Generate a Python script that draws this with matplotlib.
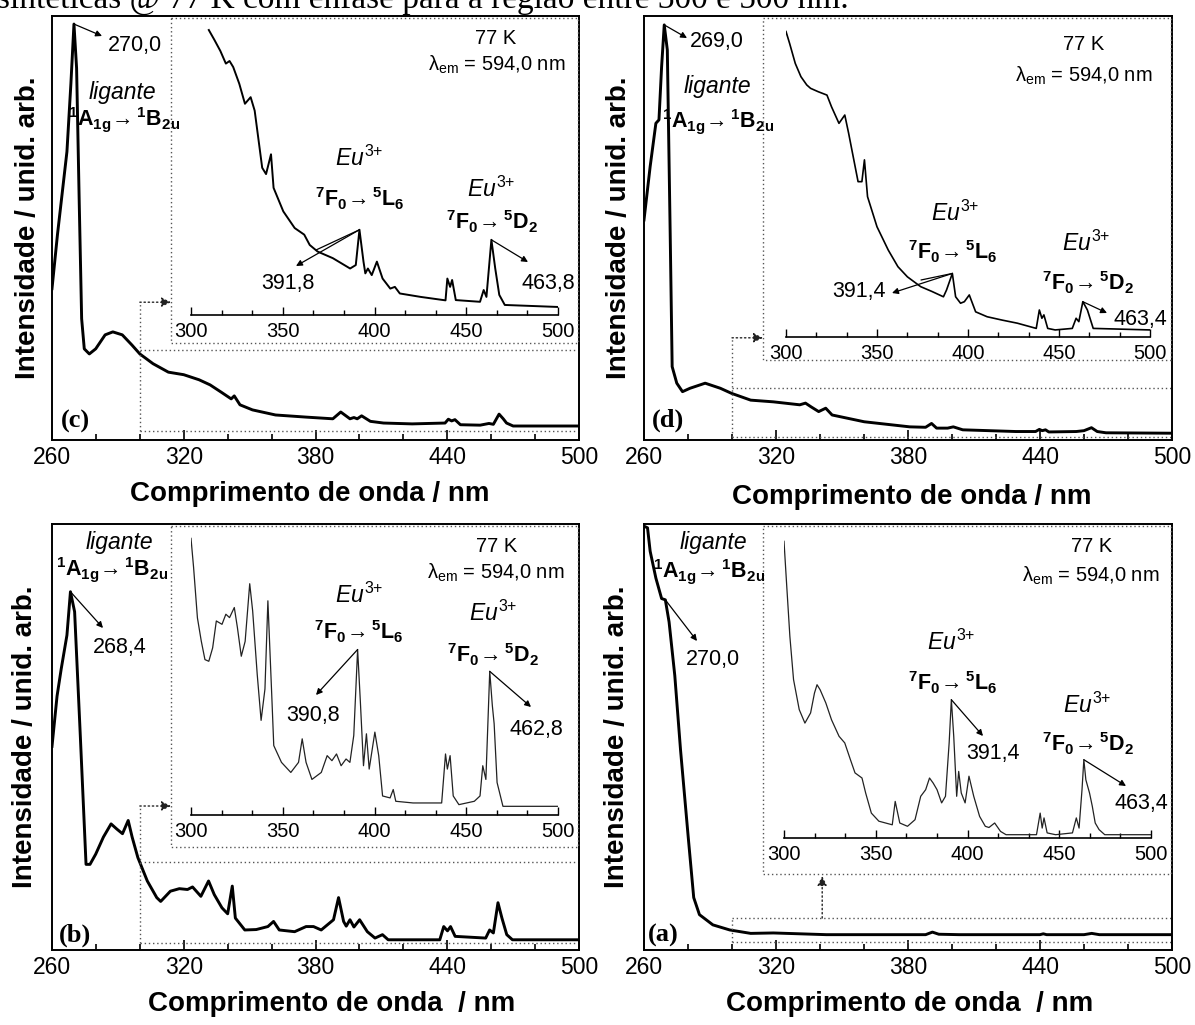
import matplotlib
matplotlib.use("Agg")
import matplotlib.pyplot as plt
import matplotlib.transforms as mtransforms
from matplotlib.patches import Rectangle
from matplotlib.ticker import MultipleLocator

W, H = 1195, 1025

plt.rcParams['font.family'] = ['Liberation Sans', 'DejaVu Sans']
plt.rcParams['mathtext.fontset'] = 'custom'
plt.rcParams['mathtext.rm'] = 'Liberation Sans'
plt.rcParams['mathtext.it'] = 'Liberation Sans:italic'
plt.rcParams['mathtext.bf'] = 'Liberation Sans:bold'

# ==============================
# DATA (intensity in % of the axis height)
# ==============================
# (c) main spectrum
c_x = [260, 262.5, 266.8, 268.6, 270, 271.2, 272.4, 273.5, 274.7, 277,
       279.9, 284.2, 287.7, 292, 296.4, 300, 306, 313, 320, 327,
       332, 337, 341.6, 343, 345.6, 351.3, 361.8, 375.7, 387.9, 391.5,
       395.7, 397.5, 399, 401, 405, 411, 424, 439, 440.5, 442,
       443.5, 446, 455, 459, 461, 463.6, 465.5, 467, 470, 500]
c_y = [35.7, 48.5, 68, 84, 98.1, 87.7, 56, 28.6, 21.5, 20.3,
       21.5, 24.8, 25.5, 24.8, 22.4, 20.3, 18, 16, 15.4, 14.2,
       13, 11.3, 9.7, 10.4, 8.3, 7.1, 5.9, 5.4, 5.0, 6.6,
       5.0, 5.3, 5.0, 5.7, 4.4, 4.0, 3.8, 4.0, 4.9, 4.5,
       4.8, 3.6, 3.5, 3.9, 3.7, 6.1, 5.0, 4.0, 3.3, 3.3]
# (c) inset 300-500 nm
ci_x = [309.7, 312.8, 316, 319, 321, 323, 326.3, 329.4, 332.5, 334.7,
        338.8, 340.9, 343.6, 345, 350.3, 356.5, 361.7, 364.7, 369, 377.3,
        386.7, 389.8, 391.8, 394, 395, 396.4, 398.5, 401.3, 404.4, 408.6,
        411.1, 413.8, 425.2, 438.7, 439.7, 441.2, 442.3, 444.3, 457.5, 459.5,
        461, 463.7, 465.8, 468, 471, 500]
ci_y = [99.3, 95.8, 92, 87.6, 88.5, 86.4, 80.6, 73.6, 75.9, 71.2,
        51.3, 49.1, 56, 44.3, 36.1, 30.3, 28, 24.4, 22.1, 19.8,
        16.2, 17.4, 29.7, 18.6, 14.5, 16.2, 13.9, 18.6, 12.7, 9.2,
        9.8, 7.5, 6.3, 5.1, 12.7, 9.8, 12.2, 5.2, 4.6, 8.7,
        6.3, 26.2, 16.2, 7, 3.5, 2.8]

# (d) main spectrum
d_x = [260, 262.8, 265.4, 266.8, 268, 269.2, 270.6, 271.9, 272.8, 274.9,
       277.5, 280.9, 287.8, 294.7, 299.8, 308.5, 318.8, 330.8, 333.4, 336,
       339.4, 342.6, 345.5, 360.1, 380.8, 388, 390.7, 393, 394.6, 398,
       400.6, 404.9, 429, 438, 439.7, 441, 442.5, 444, 456.5, 460,
       463.4, 466, 470, 500]
d_y = [51.9, 64.5, 74.7, 75.5, 88, 97.9, 92, 48.8, 17.3, 13.4,
       11.4, 12.2, 13.4, 12.2, 11, 9.4, 9, 8.3, 8.7, 7.8,
       6.7, 7.5, 5.9, 4.3, 3.1, 3.0, 3.9, 2.8, 2.8, 2.8,
       3.1, 2.4, 2.0, 2.0, 2.5, 2.2, 2.4, 1.9, 2.0, 2.2,
       2.9, 2.0, 1.7, 1.6]
# (d) inset
di_x = [300, 302, 305.1, 308.2, 311.4, 313.5, 317.7, 322.5, 325, 329.1,
        332.3, 334.4, 339.6, 341.7, 343.1, 344.8, 350, 356.2, 361.5, 366.7,
        374, 380.3, 386.5, 388.2, 391.4, 393.2, 395.9, 398, 400.7, 404.2,
        410.5, 418.8, 427.1, 437.5, 439.2, 440.6, 441.7, 443.8, 447.9, 457.3,
        459.4, 460.9, 463.1, 465.6, 468.8, 500]
di_y = [99.5, 95.6, 89.1, 84.8, 82.1, 81, 79.9, 78.8, 75, 69.6,
        72.3, 66.4, 50.6, 50.6, 57.7, 45.7, 35.9, 28.3, 22.9, 19.6,
        16.4, 14.8, 13.1, 15.3, 20.7, 13.1, 11, 11.5, 13.7, 8.2,
        6.6, 5.5, 4.5, 2.8, 8.8, 6.1, 7.2, 2.8, 2.3, 2.8,
        6.1, 5, 11.5, 8.8, 2.8, 2.3]

# (b) main spectrum
b_x = [260, 262.3, 264.2, 266.8, 268.4, 270.3, 272.9, 275.5, 277.3, 279.9,
       283.4, 286.9, 289.5, 292.1, 294.7, 296.5, 299.1, 303.4, 307.7, 309.5,
       313.9, 318, 321.7, 324, 327.8, 331.3, 333.9, 337.4, 340, 342.1,
       343.5, 347.8, 353, 358.3, 360.9, 363.5, 370.5, 375.7, 379.1, 382.6,
       388.2, 390.5, 392.8, 394, 395.7, 397.5, 400.1, 403.6, 407.1, 410.5,
       413.1, 436.6, 438.4, 440.1, 441.5, 443.6, 457.5, 459.3, 461, 463.1,
       464.9, 467.1, 469.7, 500]
b_y = [47.8, 59.6, 66, 73.9, 84.1, 79.4, 50.2, 20.1, 20.1, 22.5,
       26.5, 29.6, 28.4, 27.3, 30.4, 26.5, 21.7, 16.2, 12.3, 11.4,
       13.8, 14.4, 14.2, 14.8, 12.6, 16.2, 13, 9.9, 8.5, 15,
       7.5, 4.7, 4.8, 5.5, 6.7, 4.7, 4.3, 5.5, 5.5, 4.7,
       7.1, 12.3, 6.7, 5.6, 7.1, 5.4, 7.1, 4.3, 2.8, 3.6,
       2.4, 2.4, 5.5, 4.5, 5.5, 3.2, 2.8, 4.7, 4.0, 11.1,
       7.5, 3.6, 2.4, 2.4]
# (b) inset
bi_x = [300, 301.4, 303.5, 305.6, 307.6, 309.7, 311.8, 313.8, 316.9, 319,
        321, 323.6, 325.3, 327.4, 329.5, 332, 333.6, 336.1, 338.2, 340.3,
        341.9, 344, 345.1, 349.3, 354.4, 358.6, 360.6, 362.7, 365.9, 371,
        374.2, 376.8, 379.3, 381.8, 384.5, 386.6, 388.7, 390.8, 392.3, 394,
        395.6, 397.1, 400.2, 402.3, 404.4, 408.5, 410.2, 411.6, 421, 436.6,
        438.7, 439.7, 441.2, 442.9, 446, 454.4, 457.5, 459, 460.7, 462.8,
        464.2, 465.2, 466.8, 470, 500]
bi_y = [98.8, 88.5, 70.4, 62.1, 55.5, 54.9, 59.7, 69.3, 68.1, 71.7,
        70.5, 74.1, 66.9, 56.7, 62, 82.6, 72.9, 50.1, 33.8, 45,
        76.5, 42.9, 24.8, 18.8, 15.2, 18.8, 27.2, 18.8, 12.7, 15.2,
        21.2, 19.4, 21.8, 17.6, 20, 18.8, 28.4, 59.1, 40.4, 17.6,
        29, 16.4, 29.6, 21.2, 6.8, 6.1, 9.1, 4.9, 4.3, 4.3,
        21.8, 16.4, 21.2, 6.8, 3.7, 4.9, 6.8, 17.6, 12.7, 51.3,
        39.2, 32.6, 11.6, 3.1, 3.1]

# (a) main spectrum
a_x = [260, 261.6, 262.8, 265.4, 268, 269.7, 271.4, 274, 276.6, 280.1,
       282.6, 285.2, 291.3, 299, 308.5, 318.8, 342.9, 377.3, 388, 391.1,
       394, 403.2, 440, 441.5, 443, 460, 463.5, 467, 500]
a_y = [99.5, 99.1, 93.6, 87.3, 82.5, 82.2, 77, 64.4, 47, 26.5,
       12.3, 8.3, 5.9, 4.7, 3.9, 4.0, 3.6, 3.6, 3.6, 4.2,
       3.7, 3.6, 3.6, 3.8, 3.6, 3.6, 3.9, 3.6, 3.6]
# (a) inset
ai_x = [300, 301.5, 303.2, 305.2, 308.3, 311.4, 314.5, 316.6, 318, 319.7,
        322.8, 325.9, 330, 333.1, 336.2, 338.7, 342.5, 344.5, 347.6, 351.7,
        359, 360.6, 363.1, 367.3, 371.4, 374.5, 377.2, 379.3, 381.3, 383.4,
        385.9, 388, 390, 391.2, 392.5, 394.1, 395.2, 396.6, 398.7, 400.8,
        403.4, 406.6, 409.7, 411.7, 414.8, 418, 421, 437.6, 439.6, 440.7,
        441.7, 443.4, 448, 457.2, 459.3, 460.8, 462.4, 463.4, 464.5, 466.5,
        468, 469.6, 471.7, 474.8, 500]
ai_y = [98.9, 83.9, 67.2, 52.8, 42.8, 38.3, 41.7, 48.3, 51.1, 49.4,
        45, 39.4, 33.9, 31.7, 26.1, 21.7, 20, 15, 8.3, 5.6,
        4.4, 12.2, 5, 3.9, 6.1, 13.9, 16.1, 20, 18.3, 16.1,
        11.7, 13.9, 31.7, 46.1, 33.9, 13.9, 22.2, 15, 11.7, 20.6,
        13.9, 7.2, 3.9, 3.5, 5, 2.2, 1.1, 1.1, 8.3, 3.3,
        6.7, 1.7, 1.1, 1.7, 6.7, 3.3, 16.1, 26.1, 19.4, 15,
        10.6, 5, 2.8, 1.1, 1.1]

# peak labels (ligand band, 7F0->5L6, 7F0->5D2)
c_labels = ["270,0", "391,8", "463,8"]
d_labels = ["269,0", "391,4", "463,4"]
b_labels = ["268,4", "390,8", "462,8"]
a_labels = ["270,0", "391,4", "463,4"]

main_ticks = [260, 320, 380, 440, 500]
inset_ticks = [300, 350, 400, 450, 500]

TOP_TEXT = "sintéticas @ 77 K com ênfase para a região entre 300 e 500 nm."
XLAB_1 = "Comprimento de onda / nm"
XLAB_2 = "Comprimento de onda  / nm"
YLAB = "Intensidade / unid. arb."
LIG = "ligante"
LIG_TR = r"${}^{\mathbf{1}}\mathbf{A}_{\mathbf{1g}}\!\rightarrow{}^{\mathbf{1}}\mathbf{B}_{\mathbf{2u}}$"
EU = r"$\mathit{Eu}^{\mathit{3}\,\!\mathit{+}}$"
TR_L6 = r"${}^{\mathbf{7}}\mathbf{F}_{\mathbf{0}}\!\rightarrow{}^{\mathbf{5}}\mathbf{L}_{\mathbf{6}}$"
TR_D2 = r"${}^{\mathbf{7}}\mathbf{F}_{\mathbf{0}}\!\rightarrow{}^{\mathbf{5}}\mathbf{D}_{\mathbf{2}}$"
TEMP = "77 K"
LAM = "λ$_{\\mathrm{em}}$ = 594,0 nm"

# ==============================
# FIGURE + HELPERS
# ==============================
fig = plt.figure(figsize=(W / 100, H / 100), dpi=100)
PX = mtransforms.Affine2D().scale(1 / W, -1 / H).translate(0, 1) + fig.transFigure
DOT = (0, (1, 2))
DOTC = '#555555'


def rect(x0, y0, x1, y1):
    return [x0 / W, 1 - y1 / H, (x1 - x0) / W, (y1 - y0) / H]


def peak(xs, ys, lo, hi):
    pts = [(x, y) for x, y in zip(xs, ys) if lo <= x <= hi]
    return max(pts, key=lambda p: p[1])


def txt(x, y, s, **kw):
    kw.setdefault('fontsize', 15.5)
    fig.text(x, y, s, transform=PX, ha='center', va='center', **kw)


def arrow(ax, tail, head, style='-|>'):
    ax.annotate('', xy=head, xycoords=PX, xytext=tail, textcoords='data',
                arrowprops=dict(arrowstyle=style, color='k', lw=0.9,
                                shrinkA=0, shrinkB=0, mutation_scale=9),
                annotation_clip=False)


def main_axes(box, xs, ys):
    ax = fig.add_axes(rect(*box))
    ax.plot(xs, ys, color='k', lw=2.1, solid_joinstyle='round')
    ax.set_xlim(260, 500)
    ax.set_ylim(0, 100)
    ax.set_yticks([])
    ax.set_xticks(main_ticks)
    ax.xaxis.set_minor_locator(MultipleLocator(20))
    ax.tick_params(axis='x', which='both', direction='in', width=1.2,
                   labelsize=16.5, pad=4)
    ax.tick_params(axis='x', which='major', length=7)
    ax.tick_params(axis='x', which='minor', length=4.5)
    for s in ax.spines.values():
        s.set_linewidth(1.4)
    return ax


def inset_axes(box, xs, ys, lw, color='k'):
    ax = fig.add_axes(rect(*box))
    ax.patch.set_alpha(0)
    ax.plot(xs, ys, color=color, lw=lw)
    ax.set_xlim(300, 500)
    ax.set_ylim(0, 100)
    ax.set_yticks([])
    for side in ['top', 'left', 'right']:
        ax.spines[side].set_visible(False)
    ax.spines['bottom'].set_linewidth(1.2)
    ax.set_xticks(inset_ticks)
    ax.xaxis.set_minor_locator(MultipleLocator(50 / 3))
    ax.tick_params(axis='x', which='both', direction='in', width=1.0,
                   labelsize=14.5, pad=5)
    ax.tick_params(axis='x', which='major', length=6)
    ax.tick_params(axis='x', which='minor', length=3.5)
    return ax


def dotted_box(box):
    x0, y0, x1, y1 = box
    fig.patches.append(Rectangle((x0, y0), x1 - x0, y1 - y0, transform=PX,
                                 fill=False, ec=DOTC, lw=1.0, ls=DOT))


def dotted_arrow(ax, tr, head, tail):
    ax.annotate('', xy=head, xycoords=tr, xytext=tail, textcoords='data',
                annotation_clip=False,
                arrowprops=dict(arrowstyle='-|>', color='#222222', lw=1.0,
                                ls=DOT, shrinkA=0, shrinkB=0,
                                mutation_scale=14))


def selection(ax, lo, hi, top=None, box_left=None):
    kw = dict(color=DOTC, lw=1.0, ls=DOT)
    ax.plot([300, 500], [lo, lo], **kw)
    ax.plot([300, 500], [hi, hi], **kw)
    ax.plot([300, 300], [lo, top if top is not None else hi], **kw)
    if box_left is not None:
        tr = mtransforms.blended_transform_factory(PX, ax.transData)
        dotted_arrow(ax, tr, (box_left, top), (300, top))


def frame_labels(ylab_x, ylab_y, xlab_x, xlab_y, xlab):
    fig.text(ylab_x, ylab_y, YLAB, transform=PX, rotation=90, ha='center',
             va='center', fontsize=20, fontweight='bold')
    fig.text(xlab_x, xlab_y, xlab, transform=PX, ha='center', va='center',
             fontsize=20, fontweight='bold')


def tag(x, y, s):
    fig.text(x, y, s, transform=PX, ha='center', va='center', fontsize=19,
             fontweight='bold', family='Liberation Serif')


fig.text(-3, 8, TOP_TEXT, transform=PX, ha='left', va='baseline',
         fontsize=24, family='Liberation Serif')

# ==============================
# PANEL (c) - top left
# ==============================
ax = main_axes((52, 16, 579, 440), c_x, c_y)
selection(ax, 2.1, 21.2, top=32.5, box_left=171)
dotted_box((171, 18, 578, 343))
arrow(ax, peak(c_x, c_y, 268, 272), (102, 36))
txt(135, 45, c_labels[0])
txt(122, 92, LIG, style='italic', fontsize=16.5)
txt(124, 120, LIG_TR)
tag(75, 421, "(c)")
ai = inset_axes((191, 28, 558, 315), ci_x, ci_y, 1.4)
txt(496, 38, TEMP, fontsize=14.5)
txt(497, 65, LAM, fontsize=14.5)
txt(359, 158, EU, fontsize=16.5)
txt(360, 199, TR_L6)
pk = peak(ci_x, ci_y, 388, 393)
arrow(ai, pk, (296, 266))
arrow(ai, pk, (316, 250), style='-')
txt(288, 283, c_labels[1])
txt(491, 189, EU, fontsize=16.5)
txt(492, 222, TR_D2)
arrow(ai, peak(ci_x, ci_y, 460, 466), (528, 262))
txt(548, 283, c_labels[2])
frame_labels(28, 228, 310, 494, XLAB_1)

# ==============================
# PANEL (d) - top right
# ==============================
ax = main_axes((644, 16, 1172, 440), d_x, d_y)
selection(ax, 0.8, 12.3, top=24.1, box_left=763)
dotted_box((763, 18, 1171, 360))
arrow(ax, peak(d_x, d_y, 268, 271), (687, 38))
txt(717, 42, d_labels[0])
txt(717, 86, LIG, style='italic', fontsize=16.5)
txt(718, 122, LIG_TR)
tag(668, 420, "(d)")
ai = inset_axes((786, 30, 1150, 337), di_x, di_y, 1.2)
txt(1084, 44, TEMP, fontsize=14.5)
txt(1084, 76, LAM, fontsize=14.5)
txt(955, 213, EU, fontsize=16.5)
txt(953, 252, TR_L6)
pk = peak(di_x, di_y, 388, 393)
arrow(ai, pk, (892, 293))
arrow(ai, pk, (921, 280), style='-')
txt(859, 292, d_labels[1])
txt(1086, 243, EU, fontsize=16.5)
txt(1088, 283, TR_D2)
arrow(ai, peak(di_x, di_y, 460, 466), (1107, 313))
txt(1140, 320, d_labels[2])
frame_labels(619, 228, 912, 497, XLAB_1)

# ==============================
# PANEL (b) - bottom left
# ==============================
ax = main_axes((52, 524, 579, 950), b_x, b_y)
selection(ax, 1.6, 20.7, top=33.8, box_left=171)
dotted_box((171, 526, 578, 847))
arrow(ax, peak(b_x, b_y, 266, 271), (103, 628))
txt(120, 648, b_labels[0])
txt(119, 543, LIG, style='italic', fontsize=16.5)
txt(112, 570, LIG_TR)
tag(75, 935, "(b)")
ai = inset_axes((191, 535, 558, 815), bi_x, bi_y, 0.9, color='#222222')
txt(497, 547, TEMP, fontsize=14.5)
txt(496, 573, LAM, fontsize=14.5)
txt(359, 595, EU, fontsize=16.5)
txt(359, 632, TR_L6)
arrow(ai, peak(bi_x, bi_y, 388, 393), (316, 695))
txt(313, 715, b_labels[1])
txt(493, 613, EU, fontsize=16.5)
txt(493, 655, TR_D2)
arrow(ai, peak(bi_x, bi_y, 460, 466), (531, 707))
txt(536, 730, b_labels[2])
frame_labels(25, 737, 332, 1004, XLAB_2)

# ==============================
# PANEL (a) - bottom right
# ==============================
ax = main_axes((644, 524, 1172, 950), a_x, a_y)
selection(ax, 1.9, 7.5)
tr = mtransforms.blended_transform_factory(ax.transData, PX)
dotted_arrow(ax, tr, (341, 876), (341, 7.5))
dotted_box((763, 526, 1171, 874))
arrow(ax, peak(a_x, a_y, 269, 271), (697, 641))
txt(713, 659, a_labels[0])
txt(713, 542, LIG, style='italic', fontsize=16.5)
txt(709, 572, LIG_TR)
tag(663, 935, "(a)")
ai = inset_axes((784, 538, 1151, 838), ai_x, ai_y, 0.9, color='#222222')
txt(1092, 547, TEMP, fontsize=14.5)
txt(1091, 576, LAM, fontsize=14.5)
txt(951, 642, EU, fontsize=16.5)
txt(953, 683, TR_L6)
arrow(ai, peak(ai_x, ai_y, 388, 393), (983, 736))
txt(993, 753, a_labels[1])
txt(1087, 705, EU, fontsize=16.5)
txt(1088, 744, TR_D2)
arrow(ai, peak(ai_x, ai_y, 460, 466), (1126, 786))
txt(1141, 804, a_labels[2])
frame_labels(617, 737, 910, 1004, XLAB_2)

fig.savefig("out.png", dpi=100)
